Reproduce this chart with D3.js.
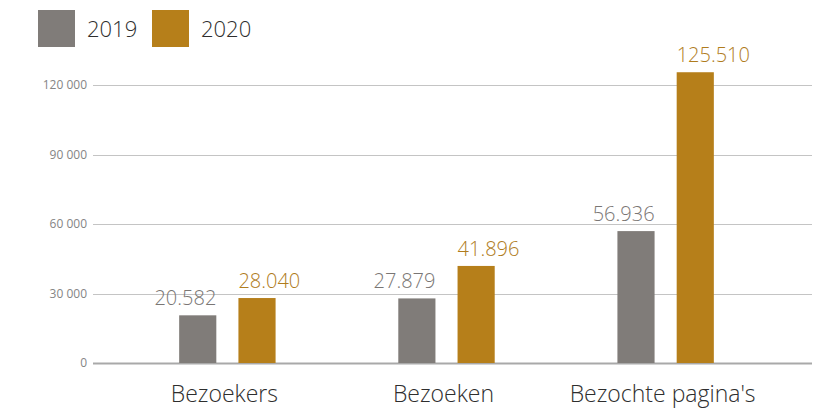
<!DOCTYPE html>
<html>
<head>
<meta charset="utf-8">
<script src="https://d3js.org/d3.v7.min.js"></script>
<style>
  body { margin: 0; background: #fff; }
  text { font-family: "Open Sans", Lato, sans-serif; font-weight: 300; }
</style>
</head>
<body>
<div id="chart"></div>
<script>
  // data
  var categories = ["Bezoekers", "Bezoeken", "Bezochte pagina's"];
  var years = ["2019", "2020"];
  var values2019 = [20582, 27879, 56936];
  var values2020 = [28040, 41896, 125510];
  var valueLabels2019 = ["20.582", "27.879", "56.936"];
  var valueLabels2020 = ["28.040", "41.896", "125.510"];
  var yTicks = [0, 30000, 60000, 90000, 120000];
  var yTickLabels = ["0", "30 000", "60 000", "90 000", "120 000"];

  var colors = {"2019": "#807c79", "2020": "#b67f1a"};
  var labelColors = {"2019": "#7a7674", "2020": "#b07c1c"};

  var width = 830, height = 419;

  var svg = d3.select("#chart")
    .append("svg")
      .attr("width", width)
      .attr("height", height);

  // scales
  var y = d3.scaleLinear()
    .domain([0, 120000])
    .range([363, 85]);

  var x0 = d3.scaleBand()
    .domain(categories)
    .range([120, 773])
    .paddingInner(0.56)
    .paddingOuter(0.27);

  var x1 = d3.scaleBand()
    .domain(years)
    .range([0, x0.bandwidth()])
    .paddingInner(0.373)
    .paddingOuter(0);

  // table for the bars
  var rows = [];
  categories.forEach(function(c, i) {
    rows.push({cat: c, year: "2019", value: values2019[i], label: valueLabels2019[i]});
    rows.push({cat: c, year: "2020", value: values2020[i], label: valueLabels2020[i]});
  });

  // grid lines
  var grid = svg.append("g");
  grid.selectAll("line")
    .data(yTicks)
    .enter()
    .append("line")
      .attr("x1", 93)
      .attr("x2", 812)
      .attr("y1", function(d) { return Math.round(y(d)) + 0.5; })
      .attr("y2", function(d) { return Math.round(y(d)) + 0.5; })
      .attr("stroke", function(d) { return d === 0 ? "#a9a9a9" : "#c4c4c4"; })
      .attr("stroke-width", function(d) { return d === 0 ? 2 : 1; });

  // y axis labels
  var yAxis = d3.axisLeft(y)
    .tickValues(yTicks)
    .tickFormat(function(d, i) { return yTickLabels[i]; })
    .tickSize(0)
    .tickPadding(0);

  var yg = svg.append("g")
    .attr("transform", "translate(87,0)")
    .call(yAxis);
  yg.select(".domain").remove();
  yg.selectAll("text")
    .attr("fill", "#858585")
    .style("font-size", "12px")
    .style("font-family", "'Open Sans', sans-serif")
    .style("font-weight", "400");

  // bars
  svg.append("g")
    .selectAll("rect")
    .data(rows)
    .enter()
    .append("rect")
      .attr("x", function(d) { return x0(d.cat) + x1(d.year); })
      .attr("y", function(d) { return y(d.value); })
      .attr("width", x1.bandwidth())
      .attr("height", function(d) { return y(0) - y(d.value); })
      .attr("fill", function(d) { return colors[d.year]; });

  // value labels
  svg.append("g")
    .selectAll("text")
    .data(rows)
    .enter()
    .append("text")
      .attr("x", function(d) {
        return d.year === "2019" ? x0(d.cat) + x1(d.year) + x1.bandwidth() : x0(d.cat) + x1(d.year);
      })
      .attr("y", function(d) { return y(d.value) - 10; })
      .attr("text-anchor", function(d) { return d.year === "2019" ? "end" : "start"; })
      .attr("fill", function(d) { return labelColors[d.year]; })
      .style("font-size", "20px")
      .text(function(d) { return d.label; });

  // category labels
  svg.append("g")
    .selectAll("text")
    .data(categories)
    .enter()
    .append("text")
      .attr("x", function(d) { return x0(d) + x0.bandwidth() / 2 - 3; })
      .attr("y", 402)
      .attr("text-anchor", "middle")
      .attr("fill", "#2e2e2e")
      .style("font-size", "23px")
      .text(function(d) { return d; });

  // legend
  var legend = svg.append("g")
    .selectAll("g")
    .data(years)
    .enter()
    .append("g")
      .attr("transform", function(d, i) { return "translate(" + (38 + i * 114) + ",10)"; });

  legend.append("rect")
    .attr("width", 37)
    .attr("height", 37)
    .attr("fill", function(d) { return colors[d]; });

  legend.append("text")
    .attr("x", 49)
    .attr("y", 27)
    .attr("fill", "#2e2e2e")
    .style("font-size", "22px")
    .text(function(d) { return d; });
</script>
</body>
</html>
